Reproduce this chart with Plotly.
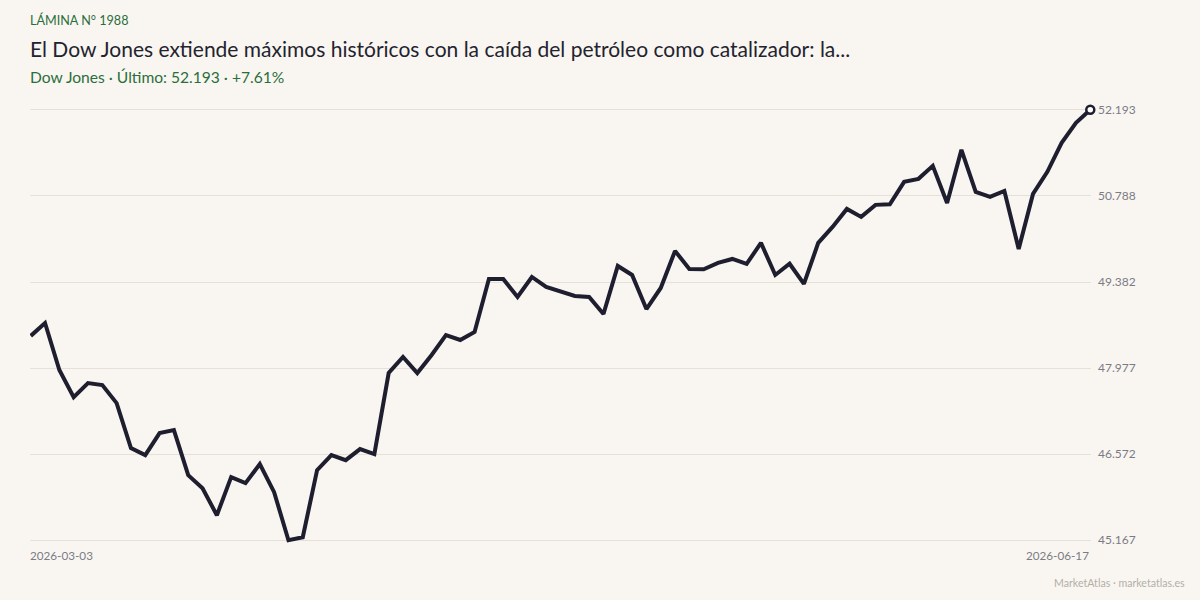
import plotly.graph_objects as go

# ---- data ----
date_labels = ["2026-03-03", "2026-06-17"]
values = [
    48502, 48713, 47945, 47503, 47732, 47699, 47405, 46670, 46556, 46915,
    46964, 46229, 46016, 45575, 46196, 46098, 46409, 45951, 45167, 45216,
    46311, 46556, 46474, 46654, 46572, 47896, 48157, 47896, 48190, 48516,
    48435, 48566, 49432, 49430, 49137, 49464, 49301, 49219, 49154, 49137,
    48860, 49644, 49497, 48941, 49284, 49889, 49595, 49590, 49693, 49758,
    49677, 50020, 49497, 49680, 49350, 50020, 50281, 50575, 50445, 50641,
    50650, 51017, 51066, 51278, 50673, 51539, 50853, 50771, 50869, 49922,
    50820, 51180, 51654, 51981, 52193,
]
y_tick_vals = [45167, 46572, 47977, 49382, 50788, 52193]
y_tick_text = ["45.167", "46.572", "47.977", "49.382", "50.788", "52.193"]

kicker = "LÁMINA N° 1988"
title = "El Dow Jones extiende máximos históricos con la caída del petróleo como catalizador: la..."
subtitle = "Dow Jones · Último: 52.193 · +7.61%"
footer = "MarketAtlas · marketatlas.es"

# ---- style ----
BG = "#f9f6f1"
LINE = "#1e1e2f"
GREEN = "#2b6e3c"
GRID = "#e6e1d8"
TICK = "#7b7b86"
FONT = "Lato, 'Open Sans', sans-serif"

idx = list(range(len(values)))

T, B, L, R = 106, 56, 30, 109
H = 600 - T - B
W = 1200 - L - R


def py(p):
    return (600 - B - p) / H


def px(p):
    return (p - L) / W


fig = go.Figure()
fig.add_trace(go.Scatter(
    x=idx, y=values, mode="lines",
    line=dict(color=LINE, width=4, shape="linear"),
    hoverinfo="skip", showlegend=False,
))
fig.add_trace(go.Scatter(
    x=[idx[-1]], y=[values[-1]], mode="markers",
    marker=dict(size=8, color="white", line=dict(color=LINE, width=2.5)),
    cliponaxis=False, hoverinfo="skip", showlegend=False,
))

pad = 62
fig.update_layout(
    width=1200, height=600,
    paper_bgcolor=BG, plot_bgcolor=BG,
    margin=dict(l=L, r=R, t=T, b=B),
    font=dict(family=FONT, color=TICK),
    xaxis=dict(
        range=[-0.05, len(values) - 1 + 0.05],
        showgrid=False, zeroline=False, showticklabels=False, showline=False,
        fixedrange=True,
    ),
    yaxis=dict(
        range=[min(values) - pad, max(values) + pad],
        side="right",
        tickvals=y_tick_vals, ticktext=y_tick_text,
        showgrid=True, gridcolor=GRID, gridwidth=1,
        zeroline=False, showline=False,
        ticks="", ticklabelstandoff=6,
        tickfont=dict(size=12, color=TICK, family=FONT),
    ),
)

common = dict(showarrow=False, borderpad=0, yanchor="middle")
ann = []
ann.append(dict(text=kicker, xref="paper", yref="paper", x=0, y=py(20), xshift=-1,
                xanchor="left", font=dict(size=12.6, color=GREEN, family=FONT), **common))
ann.append(dict(text=title, xref="paper", yref="paper", x=0, y=py(48), xshift=-1,
                xanchor="left", font=dict(size=21, color="#23232f", family=FONT), **common))
ann.append(dict(text=subtitle, xref="paper", yref="paper", x=0, y=py(77), xshift=-1,
                xanchor="left", font=dict(size=15.6, color=GREEN, family=FONT), **common))
ann.append(dict(text=date_labels[0], xref="x", yref="paper", x=idx[0], y=py(555), xshift=-2,
                xanchor="left", font=dict(size=11.7, color=TICK, family=FONT), **common))
ann.append(dict(text=date_labels[1], xref="x", yref="paper", x=idx[-1], y=py(555),
                xanchor="right", font=dict(size=11.7, color=TICK, family=FONT), **common))
ann.append(dict(text=footer, xref="paper", yref="paper", x=px(1186), y=py(583),
                xanchor="right", font=dict(size=10.6, color="#b3afa8", family=FONT), **common))
fig.update_layout(annotations=ann)

fig.write_html("out.html")
